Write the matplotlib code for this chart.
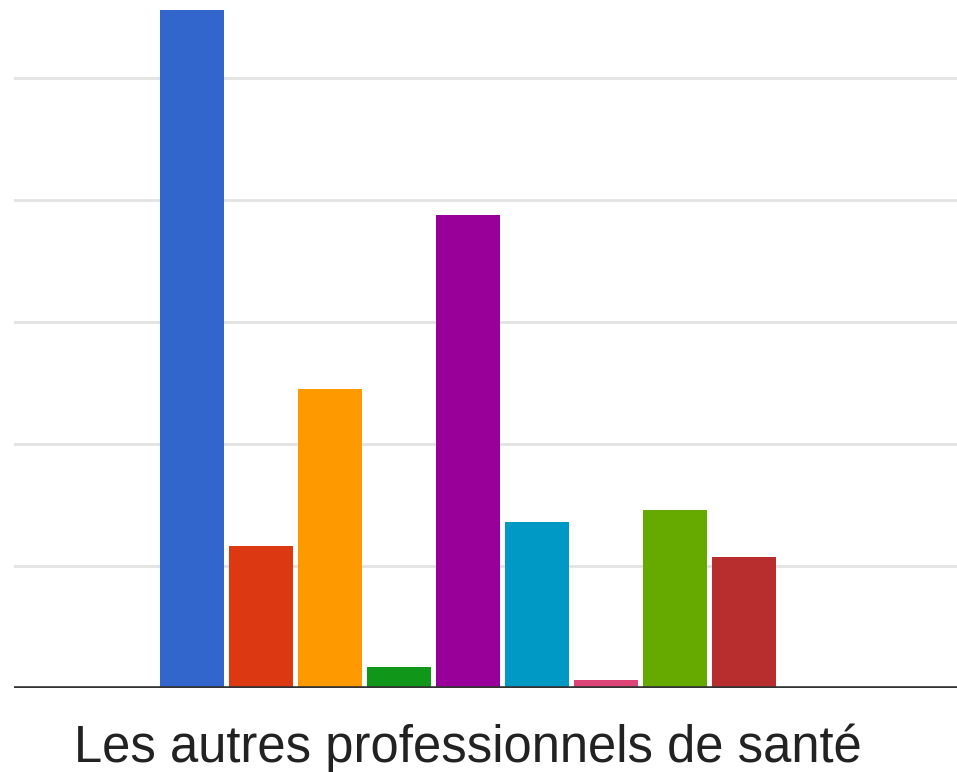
import numpy as np
import matplotlib.pyplot as plt

plt.rcParams['font.family'] = ['Liberation Sans', 'DejaVu Sans']

# data (one gridline = 10)
category = "Les autres professionnels de santé"
values = [55.6, 11.6, 24.5, 1.7, 38.8, 13.6, 0.66, 14.6, 10.7]
colors = ["#3366cc", "#dc3912", "#ff9900", "#109618", "#990099",
          "#0099c6", "#dd4477", "#66aa00", "#b82e2e"]
grid_ticks = [10, 20, 30, 40, 50]

fig = plt.figure(figsize=(9.57, 7.72), dpi=100)
ax = fig.add_axes([14 / 957, 84 / 772, 943 / 957, 688 / 772])

x = np.arange(len(values))
ax.bar(x, values, width=0.928, color=colors, zorder=2)

ax.set_xlim(-2.58, 11.09)
ax.set_ylim(0, 56.4)

for g in grid_ticks:
    ax.axhline(g, color="#e2e2e2", lw=2, zorder=1)
ax.axhline(0, color="#333333", lw=2.6, zorder=3)

ax.set_yticks([])
ax.set_xticks([])
# category label centred under the bar group, baseline near the bottom edge
ax.text(x.mean(), -0.1076, category, transform=ax.get_xaxis_transform(),
        ha="center", va="baseline", fontsize=36.5, color="#222222")

for s in ax.spines.values():
    s.set_visible(False)

fig.savefig("out.png", dpi=100)
